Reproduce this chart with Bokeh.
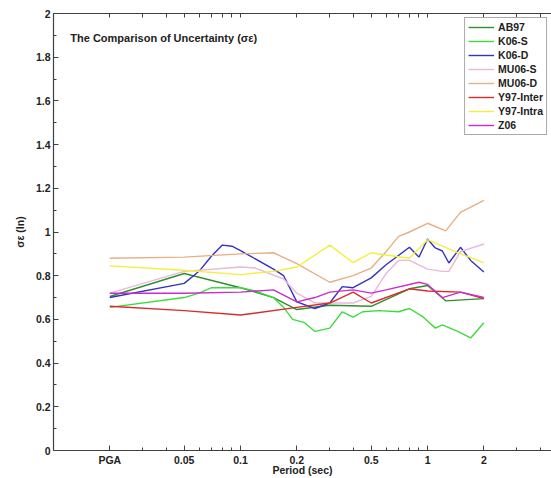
from bokeh.plotting import figure
from bokeh.models import FixedTicker, LogAxis, Label, Legend, LegendItem, Range1d
from bokeh.embed import file_html
from bokeh.resources import INLINE

# ---- data (period in sec; PGA plotted at 0.02) ----
ab97_T = [0.02, 0.05, 0.1, 0.15, 0.2, 0.3, 0.5, 0.8, 1.0, 1.25, 2.0]
ab97_v = [0.705, 0.81, 0.745, 0.70, 0.645, 0.665, 0.66, 0.74, 0.755, 0.685, 0.695]

k06s_T = [0.02, 0.05, 0.06, 0.07, 0.1, 0.12, 0.15, 0.17, 0.19, 0.22, 0.25, 0.3, 0.35,
          0.4, 0.45, 0.55, 0.7, 0.8, 0.95, 1.1, 1.2, 1.45, 1.7, 2.0]
k06s_v = [0.655, 0.70, 0.72, 0.745, 0.745, 0.73, 0.70, 0.655, 0.60, 0.585, 0.545, 0.56, 0.635,
          0.61, 0.635, 0.64, 0.635, 0.65, 0.61, 0.56, 0.575, 0.545, 0.515, 0.585]

k06d_T = [0.02, 0.05, 0.06, 0.07, 0.08, 0.09, 0.1, 0.15, 0.17, 0.2, 0.25, 0.3, 0.35, 0.4,
          0.5, 0.6, 0.8, 0.9, 1.0, 1.1, 1.2, 1.3, 1.5, 1.7, 2.0]
k06d_v = [0.70, 0.765, 0.82, 0.89, 0.94, 0.935, 0.915, 0.83, 0.80, 0.68, 0.65, 0.675, 0.75, 0.745,
          0.79, 0.85, 0.93, 0.885, 0.968, 0.927, 0.913, 0.858, 0.93, 0.87, 0.817]

mu06s_T = [0.02, 0.05, 0.1, 0.12, 0.17, 0.2, 0.25, 0.3, 0.4, 0.5, 0.6, 0.7, 0.8, 1.0,
           1.2, 1.3, 1.5, 2.0]
mu06s_v = [0.72, 0.82, 0.84, 0.835, 0.785, 0.72, 0.675, 0.675, 0.675, 0.705, 0.81, 0.87, 0.87,
           0.83, 0.82, 0.82, 0.91, 0.945]

mu06d_T = [0.02, 0.05, 0.1, 0.15, 0.2, 0.3, 0.4, 0.5, 0.6, 0.7, 0.8, 1.0, 1.25, 1.5, 2.0]
mu06d_v = [0.88, 0.885, 0.9, 0.905, 0.855, 0.77, 0.80, 0.835, 0.91, 0.98, 1.0, 1.04, 1.005,
           1.09, 1.145]

y97inter_T = [0.02, 0.05, 0.1, 0.2, 0.3, 0.4, 0.5, 0.8, 1.0, 1.5, 2.0]
y97inter_v = [0.66, 0.64, 0.62, 0.655, 0.675, 0.725, 0.675, 0.74, 0.73, 0.725, 0.695]

y97intra_T = [0.02, 0.05, 0.1, 0.15, 0.2, 0.3, 0.4, 0.5, 0.6, 0.8, 1.0, 1.5, 2.0]
y97intra_v = [0.845, 0.825, 0.805, 0.82, 0.84, 0.94, 0.86, 0.905, 0.895, 0.88, 0.965, 0.90, 0.86]

z06_T = [0.02, 0.05, 0.1, 0.15, 0.2, 0.25, 0.3, 0.4, 0.5, 0.6, 0.9, 1.0, 1.2, 1.5, 2.0]
z06_v = [0.72, 0.72, 0.725, 0.735, 0.68, 0.70, 0.725, 0.735, 0.72, 0.735, 0.77, 0.76, 0.70,
         0.725, 0.70]

series_names = ["AB97", "K06-S", "K06-D", "MU06-S", "MU06-D", "Y97-Inter", "Y97-Intra", "Z06"]

x_ticks = [0.02, 0.05, 0.1, 0.2, 0.5, 1, 2]
x_tick_labels = ["PGA", "0.05", "0.1", "0.2", "0.5", "1", "2"]
x_minor = [0.03, 0.04, 0.06, 0.07, 0.08, 0.09, 0.3, 0.4, 0.6, 0.7, 0.8, 0.9, 3, 4]
y_ticks = [0, 0.2, 0.4, 0.6, 0.8, 1.0, 1.2, 1.4, 1.6, 1.8, 2.0]
y_tick_labels = ["0", "0.2", "0.4", "0.6", "0.8", "1", "1.2", "1.4", "1.6", "1.8", "2"]
y_minor = [0.1, 0.3, 0.5, 0.7, 0.9, 1.1, 1.3, 1.5, 1.7, 1.9]

# ---- styling ----
FONT = "Liberation Sans"
AX = "#404040"
colors = ["#2f8f2f", "#3ddc3d", "#3434c4", "#e9b9d9", "#e6b084", "#d82c2c", "#f2f03c", "#cc2ccc"]

p = figure(width=551, height=478, x_axis_type="log",
           x_range=Range1d(0.01, 4.6), y_range=Range1d(0, 2),
           output_backend="svg", toolbar_location=None,
           min_border_left=53, min_border_top=13, min_border_right=0, min_border_bottom=10)
p.outline_line_color = None
p.grid.visible = False
p.background_fill_color = "white"

xt = FixedTicker(ticks=x_ticks, minor_ticks=x_minor)
yt = FixedTicker(ticks=y_ticks, minor_ticks=y_minor)

xa = p.xaxis[0]
xa.ticker = xt
xa.major_label_overrides = dict(zip(x_ticks, x_tick_labels))
xa.axis_label = "Period (sec)"
ya = p.yaxis[0]
ya.ticker = yt
ya.major_label_overrides = dict(zip(y_ticks, y_tick_labels))
ya.axis_label = "σε (ln)"

for ax in (xa, ya):
    ax.axis_line_color = AX
    ax.axis_line_width = 1.2
    ax.major_tick_line_color = AX
    ax.minor_tick_line_color = AX
    ax.major_tick_in = 5
    ax.major_tick_out = 0
    ax.minor_tick_in = 3
    ax.minor_tick_out = 0
    ax.major_label_text_font = FONT
    ax.major_label_text_font_style = "bold"
    ax.major_label_text_font_size = "10.5px"
    ax.major_label_text_color = "#222222"
    ax.axis_label_text_font = FONT
    ax.axis_label_text_font_style = "bold"
    ax.axis_label_text_font_size = "10.5px"
    ax.axis_label_text_color = "#222222"
xa.major_label_standoff = 3
xa.axis_label_standoff = -5
ya.major_label_standoff = 3
ya.axis_label_standoff = 7

# top frame edge with inward ticks (no labels)
top = LogAxis(ticker=FixedTicker(ticks=[], minor_ticks=x_ticks + x_minor),
              axis_line_color=AX, axis_line_width=1.2,
              minor_tick_line_color=AX, minor_tick_in=4, minor_tick_out=0,
              major_label_standoff=0)
p.add_layout(top, "above")

data = [(ab97_T, ab97_v), (k06s_T, k06s_v), (k06d_T, k06d_v), (mu06s_T, mu06s_v),
        (mu06d_T, mu06d_v), (y97inter_T, y97inter_v), (y97intra_T, y97intra_v), (z06_T, z06_v)]

items = []
for (t, v), name, c in zip(data, series_names, colors):
    r = p.line(t, v, line_color=c, line_width=1.4)
    items.append(LegendItem(label=name, renderers=[r]))

legend = Legend(items=items, location="top_right", margin=4,
                label_text_font=FONT, label_text_font_style="bold",
                label_text_font_size="10.5px", label_text_color="#222222",
                label_height=12, glyph_height=12, glyph_width=26, spacing=2,
                padding=3, label_standoff=4,
                border_line_color="#555555", border_line_width=1,
                background_fill_color="white", background_fill_alpha=1)
p.add_layout(legend)

p.add_layout(Label(x=0.0123, y=1.89, text="The Comparison of Uncertainty (σε)",
                   text_font=FONT, text_font_style="bold", text_font_size="11px",
                   text_color="#222222", text_baseline="middle"))

open("out.html", "w").write(file_html(p, INLINE))
